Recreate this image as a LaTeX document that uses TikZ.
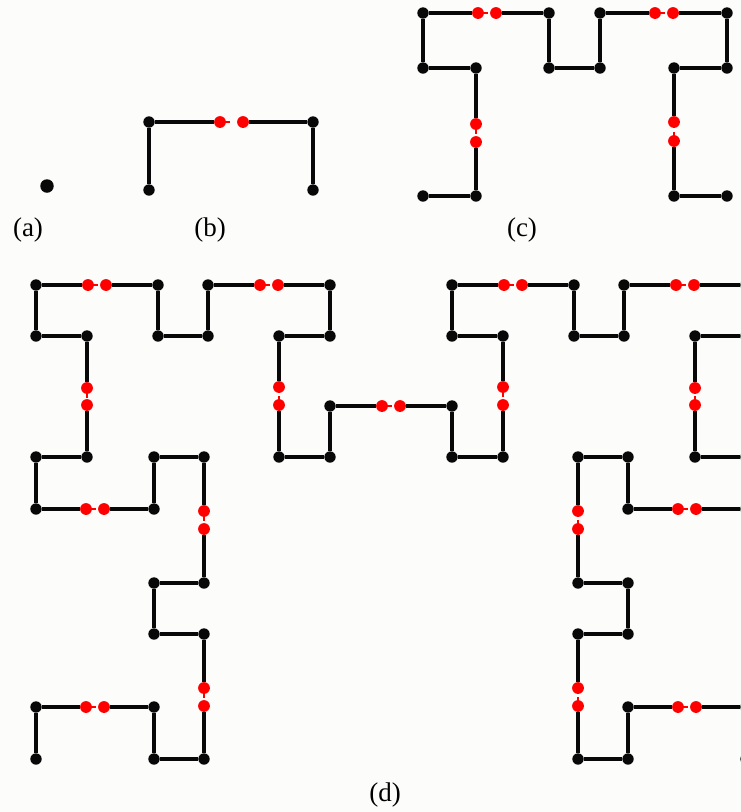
\documentclass[tikz,border=0pt]{standalone}
\usepackage{fontspec}
\setmainfont{Liberation Serif}
\usetikzlibrary{calc}

\definecolor{paper}{RGB}{252,253,250}
\definecolor{ink}{RGB}{8,8,8}
\definecolor{dotred}{RGB}{255,0,0}

\tikzset{
  dotb/.style={circle, fill=ink, inner sep=0pt, outer sep=0pt, minimum size=11.4pt},
  dotr/.style={circle, fill=dotred, inner sep=0pt, outer sep=0pt, minimum size=11.8pt},
  dots/.style={dotr},
  bigdot/.style={circle, fill=ink, inner sep=0pt, minimum size=13.5pt},
  wire/.style={line width=3.7pt, draw=ink},
  stub/.style={line width=2.2pt, draw=dotred},
  tag/.style={font=\fontsize{27}{30}\selectfont, inner sep=0pt},
}

\newif\ifcurred
\newif\iflastred

% #1: name prefix, #2: list kind/x/y (b = black vertex, r = red mark,
% s = red mark carrying the short stub toward its partner)
\newcommand\hilbertpath[2]{%
  \foreach \kind/\px/\py [count=\i] in {#2} {
    \node[dot\kind] (#1-\i) at (\px,-\py) {};
    \pgfmathtruncatemacro\lasti{\i-1}
    \ifnum\i>1
      \if\kind b\curredfalse\else\curredtrue\fi
      \ifcurred
        \iflastred
          \if\kind s
            \draw[stub] (#1-\i.center) -- ($(#1-\i.center)!9.5pt!(#1-\lasti.center)$);
          \else
            \draw[stub] (#1-\lasti.center) -- ($(#1-\lasti.center)!9.5pt!(#1-\i.center)$);
          \fi
        \else
          \draw[wire] (#1-\lasti) -- (#1-\i);
        \fi
      \else
        \draw[wire] (#1-\lasti) -- (#1-\i);
      \fi
    \fi
    \if\kind b\global\lastredfalse\else\global\lastredtrue\fi
  }%
}

\begin{document}
\begin{tikzpicture}[x=1pt, y=1pt]
  \useasboundingbox (0,0) rectangle (741,-812);
  \fill[paper] (0,0) rectangle (741,-812);
  \clip (0,0) rectangle (741,-812);

  % (a) a single point
  \node[bigdot] (a-1) at (47,-186) {};
  \node[tag] (la) at (28,-230) {(a)};

  % (b) first order
  \hilbertpath{b}{b/149/190, b/149/122, s/220/122, r/243/122, b/313/122, b/313/190}
  \node[tag] (lb) at (210,-230) {(b)};

  % (c) second order
  \hilbertpath{c}{b/423/196, b/476/196, r/476/142, s/476/124, b/476/68, b/423/68,
    b/423/13, s/478/13, r/496/13, b/549/13, b/549/68, b/600/68, b/600/13,
    s/655/13, r/673/13, b/727/13, b/727/68, b/674/68, r/674/122, s/674/141,
    b/674/196, b/727/196}
  \node[tag] (lc) at (522,-230) {(c)};

  % (d) third order
  \hilbertpath{d}{b/36/759, b/36/707, s/86/707, r/104/707, b/154/707, b/154/759,
    b/204/759, r/204/706, s/204/688, b/204/634, b/154/634, b/154/583, b/204/583,
    r/204/529, s/204/511, b/204/457, b/154/457, b/154/509, r/104/509, s/86/509,
    b/36/509, b/36/457, b/87/457, r/87/405, s/87/388, b/87/336, b/36/336,
    b/36/285, s/88/285, r/106/285, b/158/285, b/158/336, b/208/336, b/208/285,
    s/260/285, r/278/285, b/330/285, b/330/336, b/279/336, r/279/387, s/279/405,
    b/279/457, b/330/457, b/330/406, s/382/406, r/400/406,
    b/452/406, b/452/457, b/503/457, r/503/405, s/503/387, b/503/336, b/452/336,
    b/452/285, s/504/285, r/522/285, b/574/285, b/574/336, b/624/336, b/624/285,
    s/676/285, r/694/285, b/746/285, b/746/336, b/695/336, r/695/388, s/695/405,
    b/695/457, b/746/457, b/746/509, r/696/509, s/678/509, b/628/509, b/628/457,
    b/578/457, r/578/511, s/578/529, b/578/583, b/628/583, b/628/634, b/578/634,
    r/578/688, s/578/706, b/578/759, b/628/759, b/628/707, s/678/707, r/696/707,
    b/746/707, b/746/759}
  \node[tag] (ld) at (385,-795) {(d)};
\end{tikzpicture}
\end{document}
